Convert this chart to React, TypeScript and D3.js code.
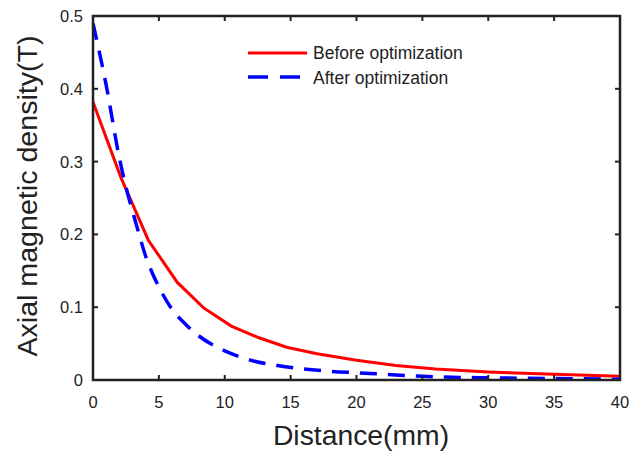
import React from "react";
import * as d3 from "d3";

const beforeX = [0, 2.1, 4.2, 6.4, 8.4, 10.5, 12.6, 14.7, 17, 20, 23, 26, 30, 35, 40];
const beforeY = [0.382, 0.279, 0.192, 0.134, 0.099, 0.074, 0.058, 0.045, 0.036, 0.027, 0.02, 0.015, 0.011, 0.008, 0.005];
const afterX = [0, 1, 2, 2.5, 3, 3.5, 4, 4.5, 5, 6, 7, 8, 9, 10, 12, 14, 16, 18, 20, 22, 25, 30, 35, 40];
const afterY = [0.49, 0.405, 0.305, 0.265, 0.232, 0.2, 0.17, 0.147, 0.128, 0.097, 0.077, 0.061, 0.049, 0.04, 0.027, 0.02, 0.015, 0.012, 0.01, 0.008, 0.005, 0.003, 0.002, 0.001];
const xTicks = [0, 5, 10, 15, 20, 25, 30, 35, 40];
const yTicks = [0, 0.1, 0.2, 0.3, 0.4, 0.5];
const seriesNames = ["Before optimization", "After optimization"];

export default function App() {
  const W = 634, H = 452;
  const L = 93, R = 620, T = 16, B = 380;
  const x = d3.scaleLinear().domain([0, 40]).range([L, R]);
  const y = d3.scaleLinear().domain([0, 0.5]).range([B, T]);
  const line = d3.line<[number, number]>().x(d => x(d[0])).y(d => y(d[1]));
  const smooth = d3.line<[number, number]>().x(d => x(d[0])).y(d => y(d[1])).curve(d3.curveMonotoneX);
  const before = beforeX.map((v, i) => [v, beforeY[i]] as [number, number]);
  const after = afterX.map((v, i) => [v, afterY[i]] as [number, number]);
  const font = "Liberation Sans, Arial, sans-serif";
  const tl = 5;
  return (
    <svg width={W} height={H} style={{ position: "absolute", left: 0, top: 0, background: "#fff" }} fontFamily={font}>
      <rect x={0} y={0} width={W} height={H} fill="#fff" />
      <defs>
        <clipPath id="pc"><rect x={L} y={T - 2} width={R - L + 2} height={B - T + 4} /></clipPath>
      </defs>
      <g clipPath="url(#pc)">
        <path d={line(before) || ""} fill="none" stroke="#ff0000" strokeWidth={3} />
        <path d={smooth(after) || ""} fill="none" stroke="#0000ff" strokeWidth={3.5} strokeDasharray="17,11" />
      </g>
      {xTicks.map(t => (
        <g key={"x" + t}>
          <line x1={x(t)} x2={x(t)} y1={B} y2={B - tl} stroke="#222" strokeWidth={2} />
          <line x1={x(t)} x2={x(t)} y1={T} y2={T + tl} stroke="#222" strokeWidth={2} />
          <text x={x(t)} y={408} textAnchor="middle" fontSize={16.5} fill="#222">{t}</text>
        </g>
      ))}
      {yTicks.map(t => (
        <g key={"y" + t}>
          <line x1={L} x2={L + tl} y1={y(t)} y2={y(t)} stroke="#222" strokeWidth={2} />
          <line x1={R} x2={R - tl} y1={y(t)} y2={y(t)} stroke="#222" strokeWidth={2} />
          <text x={83} y={y(t) + 6} textAnchor="end" fontSize={16.5} fill="#222">{t === 0 ? "0" : t.toFixed(1)}</text>
        </g>
      ))}
      <rect x={L} y={T} width={R - L} height={B - T} fill="none" stroke="#222" strokeWidth={2.5} />
      <text transform="translate(361,445) scale(1.03,1)" textAnchor="middle" fontSize={27.5} fill="#222">Distance(mm)</text>
      <text transform="translate(37,196) rotate(-90) scale(1.06,1)" textAnchor="middle" fontSize={27} fill="#222">Axial magnetic density(T)</text>
      <line x1={248} x2={307} y1={53} y2={53} stroke="#ff0000" strokeWidth={3} />
      <line x1={248} x2={307} y1={77} y2={77} stroke="#0000ff" strokeWidth={3.5} strokeDasharray="20,12" />
      <text x={313} y={59} fontSize={17.5} fill="#222">{seriesNames[0]}</text>
      <text x={313} y={84} fontSize={17.5} fill="#222">{seriesNames[1]}</text>
    </svg>
  );
}
